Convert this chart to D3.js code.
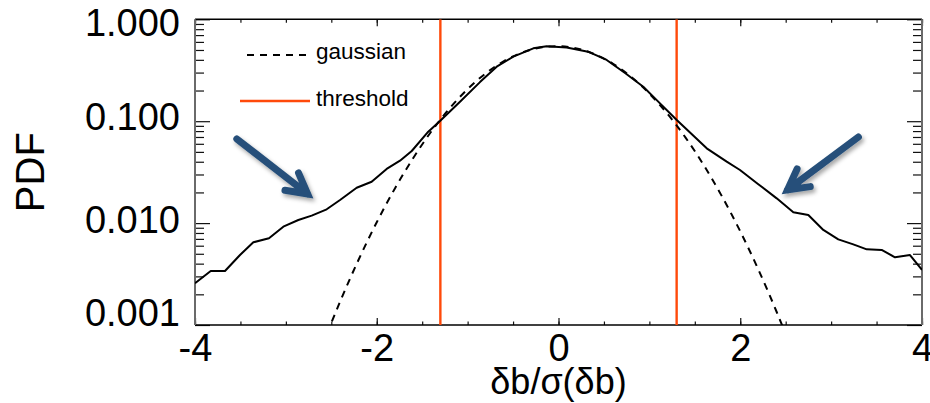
<!DOCTYPE html>
<html><head><meta charset="utf-8">
<script src="https://cdn.jsdelivr.net/npm/d3@7"></script>
<style>
body{margin:0;background:#fff}
svg{display:block;font-family:"Liberation Sans",Arial,Helvetica,sans-serif}
</style>
</head><body>
<svg id="c" width="930" height="403"></svg>
<script>
// ---- data ----
const pdfX = [-4.000,-3.827,-3.670,-3.505,-3.358,-3.186,-3.028,-2.863,-2.716,-2.551,-2.404,-2.221,-2.056,-1.891,-1.744,-1.615,-1.433,-1.304,-1.084,-0.864,-0.680,-0.497,-0.277,-0.130,0.090,0.325,0.530,0.732,0.933,1.081,1.301,1.631,1.851,1.997,2.195,2.401,2.584,2.749,2.914,3.079,3.244,3.392,3.556,3.703,3.868,4.000];
const pdfY = [0.00257,0.00339,0.00339,0.00486,0.00648,0.00710,0.00922,0.01072,0.01183,0.01366,0.01686,0.02225,0.02548,0.0340,0.0410,0.0510,0.0789,0.1005,0.155,0.242,0.343,0.430,0.519,0.543,0.529,0.481,0.399,0.297,0.218,0.161,0.1028,0.0542,0.0401,0.0332,0.0242,0.0175,0.0128,0.0120,0.00857,0.00693,0.00619,0.00553,0.00545,0.00462,0.00486,0.00347];
const gaussX = [-2.6,-2.4,-2.2,-2.0,-1.8,-1.6,-1.4,-1.2,-1.0,-0.8,-0.6,-0.4,-0.2,0.0,0.2,0.4,0.6,0.8,1.0,1.2,1.4,1.6,1.8,2.0,2.2,2.4,2.6];
const gaussY = [0.000628,0.001724,0.004367,0.01019,0.02188,0.04336,0.0792,0.1332,0.2066,0.2953,0.3890,0.4721,0.5282,0.5447,0.5176,0.4533,0.3659,0.2721,0.1866,0.1179,0.0686,0.03684,0.01821,0.008306,0.003488,0.001349,0.000482];
const thresholds = [-1.3, 1.3];
const xTickValues = [-4,-2,0,2,4];
const xTickLabels = ["-4","-2","0","2","4"];
const yTickValues = [0.001,0.01,0.1,1];
const yTickLabels = ["0.001","0.010","0.100","1.000"];
const legendLabels = ["gaussian","threshold"];
const arrowFrom = [[-3.54,0.067],[3.30,0.070]];
const arrowTo = [[-2.76,0.0193],[2.52,0.0212]];
const xTitle = "δb/σ(δb)";
const yTitle = "PDF";

// ---- layout ----
const W = 930, H = 403;
const m = {l:195, r:8, t:19.3, b:78};
const svg = d3.select("#c");
const x = d3.scaleLinear().domain([-4,4]).range([m.l, W-m.r]);
const y = d3.scaleLog().domain([0.001,1]).range([H-m.b, m.t]);
const X0 = x.range()[0], X1 = x.range()[1], Y0 = y.range()[0], Y1 = y.range()[1];

svg.append("defs").append("clipPath").attr("id","clip")
  .append("rect").attr("x",X0).attr("y",Y1).attr("width",X1-X0).attr("height",Y0-Y1);
const f = svg.select("defs").append("filter").attr("id","sh")
  .attr("x","-30%").attr("y","-30%").attr("width","160%").attr("height","160%");
f.append("feDropShadow").attr("dx",2).attr("dy",3).attr("stdDeviation",2.2)
  .attr("flood-color","#000").attr("flood-opacity",0.35);

// minor log values
const yMinor = [];
[0.001,0.01,0.1].forEach(d => { for (let k=2;k<=9;k++) yMinor.push(d*k); });
const xMinor = d3.range(-4, 4.001, 0.5);

// ---- axes ----
function styleAxis(g){ g.select(".domain").remove(); g.selectAll(".tick line").attr("stroke","#111").attr("stroke-width",1.2); }
svg.append("g").attr("transform",`translate(0,${Y0})`)
  .call(d3.axisBottom(x).tickValues(xMinor).tickSize(-3.5).tickFormat("")).call(styleAxis);
svg.append("g").attr("transform",`translate(0,${Y1})`)
  .call(d3.axisTop(x).tickValues(xMinor).tickSize(-3.5).tickFormat("")).call(styleAxis);
svg.append("g").attr("transform",`translate(0,${Y1})`)
  .call(d3.axisTop(x).tickValues(xTickValues).tickSize(-7).tickFormat("")).call(styleAxis);
const xb = svg.append("g").attr("transform",`translate(0,${Y0})`)
  .call(d3.axisBottom(x).tickValues(xTickValues).tickSize(-7).tickPadding(9)
    .tickFormat((d,i)=>xTickLabels[i])).call(styleAxis);
xb.selectAll("text").attr("font-size",38).attr("fill","#000").attr("font-family",null);

svg.append("g").attr("transform",`translate(${X0},0)`)
  .call(d3.axisLeft(y).tickValues(yMinor).tickSize(-9).tickFormat("")).call(styleAxis);
svg.append("g").attr("transform",`translate(${X1},0)`)
  .call(d3.axisRight(y).tickValues(yMinor).tickSize(-9).tickFormat("")).call(styleAxis);
svg.append("g").attr("transform",`translate(${X1},0)`)
  .call(d3.axisRight(y).tickValues(yTickValues).tickSize(-15).tickFormat("")).call(styleAxis);
const yl = svg.append("g").attr("transform",`translate(${X0},0)`)
  .call(d3.axisLeft(y).tickValues(yTickValues).tickSize(-15).tickPadding(15)
    .tickFormat((d,i)=>yTickLabels[i])).call(styleAxis);
yl.selectAll("text").attr("font-size",38).attr("fill","#000").attr("font-family",null)
  .attr("dy", d => d === 0.001 ? "0.0em" : (d===1 ? "0.42em" : (d===0.1 ? "0.22em" : "0.26em")));

// frame
svg.append("line").attr("x1",X0).attr("x2",X1).attr("y1",Y1).attr("y2",Y1).attr("stroke","#000").attr("stroke-width",1.6);
svg.append("line").attr("x1",X0).attr("x2",X1).attr("y1",Y0).attr("y2",Y0).attr("stroke","#000").attr("stroke-width",1.6);
svg.append("line").attr("x1",X0).attr("x2",X0).attr("y1",Y1).attr("y2",Y0).attr("stroke","#6a6a6a").attr("stroke-width",2);
svg.append("line").attr("x1",X1).attr("x2",X1).attr("y1",Y1).attr("y2",Y0).attr("stroke","#6a6a6a").attr("stroke-width",2);

// ---- data marks ----
const plot = svg.append("g").attr("clip-path","url(#clip)");
plot.selectAll("line.thr").data(thresholds).join("line").attr("class","thr")
  .attr("x1",d=>x(d)).attr("x2",d=>x(d)).attr("y1",Y1).attr("y2",Y0)
  .attr("stroke","#ff4a0a").attr("stroke-width",2.4);

const gLine = d3.line().x((d,i)=>x(gaussX[i])).y(d=>y(d)).curve(d3.curveMonotoneX);
plot.append("path").attr("d",gLine(gaussY)).attr("fill","none").attr("stroke","#000")
  .attr("stroke-width",2).attr("stroke-dasharray","7,6");

const pLine = d3.line().x((d,i)=>x(pdfX[i])).y(d=>y(d));
plot.append("path").attr("d",pLine(pdfY)).attr("fill","none").attr("stroke","#000")
  .attr("stroke-width",2).attr("stroke-linejoin","round");

// ---- legend ----
svg.append("line").attr("x1",247).attr("x2",311).attr("y1",55).attr("y2",55)
  .attr("stroke","#000").attr("stroke-width",2).attr("stroke-dasharray","7,6");
svg.append("line").attr("x1",240).attr("x2",310).attr("y1",101).attr("y2",101)
  .attr("stroke","#ff4a0a").attr("stroke-width",2.4);
svg.selectAll("text.leg").data(legendLabels).join("text").attr("class","leg")
  .attr("x",316).attr("y",(d,i)=>[59,106][i]).attr("font-size",22.5).attr("fill","#000").text(d=>d);

// ---- arrows ----
const ag = svg.append("g").attr("filter","url(#sh)");
arrowFrom.forEach((a,i) => {
  const x0 = x(a[0]), y0 = y(a[1]), x1 = x(arrowTo[i][0]), y1 = y(arrowTo[i][1]);
  const ang = Math.atan2(y1-y0, x1-x0), L = 23, sp = 0.5;
  const p = d3.path();
  p.moveTo(x0,y0); p.lineTo(x1,y1);
  p.moveTo(x1 - L*Math.cos(ang-sp), y1 - L*Math.sin(ang-sp)); p.lineTo(x1,y1);
  p.lineTo(x1 - L*Math.cos(ang+sp), y1 - L*Math.sin(ang+sp));
  ag.append("path").attr("d",p.toString()).attr("fill","none").attr("stroke","#27507a")
    .attr("stroke-width",7).attr("stroke-linecap","round").attr("stroke-linejoin","miter");
});

// ---- titles ----
svg.append("text").attr("x",(X0+X1)/2).attr("y",394).attr("text-anchor","middle")
  .attr("font-size",36).attr("fill","#000").text(xTitle);
svg.append("text").attr("transform",`translate(44,${(Y0+Y1)/2}) rotate(-90)`).attr("text-anchor","middle")
  .attr("font-size",40).attr("fill","#000").text(yTitle);
</script>
</body></html>
